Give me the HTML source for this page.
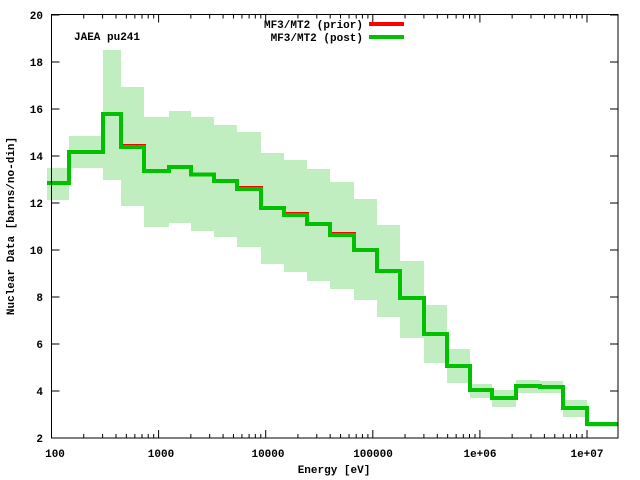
<!DOCTYPE html>
<html><head><meta charset="utf-8"><style>
html,body{margin:0;padding:0;background:#fff;}
svg{display:block;}
text{font-family:"Liberation Mono",monospace;font-weight:bold;font-size:11px;fill:#000;}
</style></head><body>
<svg width="640" height="480" xmlns="http://www.w3.org/2000/svg">
<g id="band" fill="#c0eec0"></g>
<path id="prior" fill="none" stroke="#ff0000" stroke-width="4"/>
<path id="post" fill="none" stroke="#00c000" stroke-width="4"/>
<rect x="51.5" y="14.5" width="566.5" height="423.5" fill="none" stroke="#000" stroke-width="1"/>
<g id="ticks" stroke="#000" stroke-width="1"></g>
<g text-anchor="end">
<text x="43" y="442">2</text><text x="43" y="395">4</text><text x="43" y="348">6</text>
<text x="43" y="301">8</text><text x="43" y="254">10</text><text x="43" y="207">12</text>
<text x="43" y="160">14</text><text x="43" y="113">16</text><text x="43" y="66">18</text>
<text x="43" y="19">20</text>
</g>
<g text-anchor="middle">
<text x="55" y="457">100</text><text x="161" y="457">1000</text><text x="268" y="457">10000</text>
<text x="373" y="457">100000</text><text x="480" y="457">1e+06</text><text x="587" y="457">1e+07</text>
<text x="334" y="473">Energy [eV]</text>
<text transform="translate(14,226) rotate(-90)">Nuclear Data [barns/no-din]</text>
</g>
<text x="74" y="40">JAEA pu241</text>
<g text-anchor="end"><text x="363" y="28">MF3/MT2 (prior)</text><text x="363" y="41">MF3/MT2 (post)</text></g>
<line x1="369" y1="24" x2="404" y2="24" stroke="#ff0000" stroke-width="4"/>
<line x1="369" y1="37" x2="404" y2="37" stroke="#00c000" stroke-width="4"/>
<script>
var xs=[47,69,103,121,144,169,191,214,237,261,284,307,330,354,377,400,424,447,470,492,516,540,563,587,618];
var yp=[183,152,114,147,171,167,174.5,181,189,208,215,224,235,250,271,298,334,366,390,398,386,387,408,424];
var top_=[168,136,50,87,117,111,117,125,132,153,160,169,182,199,225,261,305,349,384,390,380,381,400,422];
var bot=[200,168,180,206,227,223,231,237,247,264,272,281,289,300,317,338,363,383,398,407,393,393,417,427];
var ns="http://www.w3.org/2000/svg",b=document.getElementById("band");
for(var i=0;i<24;i++){var r=document.createElementNS(ns,"rect");r.setAttribute("x",xs[i]);r.setAttribute("y",top_[i]);r.setAttribute("width",xs[i+1]-xs[i]);r.setAttribute("height",bot[i]-top_[i]);b.appendChild(r);}
var pr=yp.slice();pr[3]=146;pr[8]=188;pr[12]=234;pr[10]=214;
function mk(y){var d="M"+xs[0]+","+y[0];for(var i=0;i<24;i++){d+=" L"+xs[i+1]+","+y[i];if(i<23)d+=" L"+xs[i+1]+","+y[i+1];}return d;}
document.getElementById("prior").setAttribute("d",mk(pr));
document.getElementById("post").setAttribute("d",mk(yp));
var t=document.getElementById("ticks"),s="";
for(var v=2;v<=20;v+=2){var y=438-(v-2)*23.5;s+="M51.5,"+y+"h8M618,"+y+"h-8";}
for(var d=2;d<=7;d++){for(var m=1;m<=9;m++){var x=51.5+(d-2+Math.log10(m))*107.1;if(x>618)break;var L=m==1?8:4;s+="M"+x+",438v-"+L+"M"+x+",14.5v"+L;}}
var p=document.createElementNS(ns,"path");p.setAttribute("d",s);p.setAttribute("fill","none");t.appendChild(p);
</script>
</svg>
</body></html>
